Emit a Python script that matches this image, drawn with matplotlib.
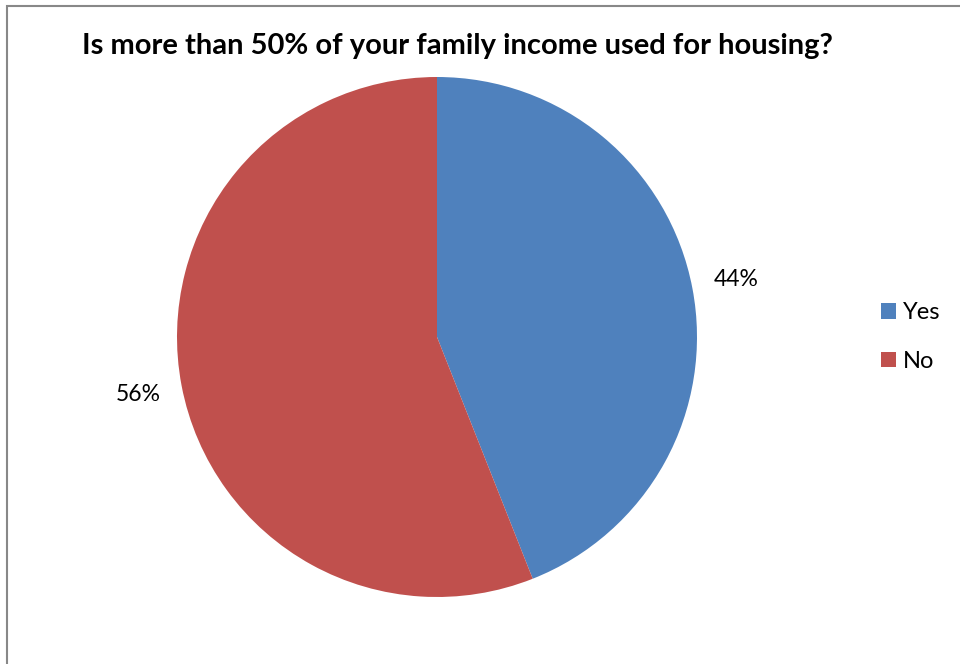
import matplotlib.pyplot as plt
from matplotlib.patches import Rectangle, Patch

# Share of respondents spending more than half of family income on housing
labels = ['Yes', 'No']
values = [44, 56]
colors = ['#4F81BD', '#C0504D']

plt.rcParams['font.family'] = ['Lato', 'DejaVu Sans']

W, H = 960, 664
fig = plt.figure(figsize=(W / 100, H / 100), dpi=100)

# chart frame (runs off the right and bottom edges)
fig.patches.append(Rectangle((7 / W, -0.1), 1.2, 1 - 6.5 / H + 0.1,
                             transform=fig.transFigure, fill=False,
                             edgecolor='#888888', linewidth=1.5))

cx, cy, r = 437, 337, 260
ax = fig.add_axes([(cx - r) / W, (H - cy - r) / H, 2 * r / W, 2 * r / H])
wedges, texts, autotexts = ax.pie(values, colors=colors, startangle=90,
                                  counterclock=False, radius=1,
                                  autopct='%d%%', pctdistance=1.17,
                                  wedgeprops=dict(linewidth=0))
for t in autotexts:
    t.set_fontsize(16.5)
ax.set_xlim(-1, 1)
ax.set_ylim(-1, 1)
ax.set_aspect('auto')
ax.axis('off')

fig.text(457 / W, 1 - 46 / H, 'Is more than 50% of your family income used for housing?',
         ha='center', va='center', fontsize=21, fontweight='bold')

handles = [Patch(facecolor=c, label=l) for c, l in zip(colors, labels)]
fig.legend(handles=handles, loc='center left', bbox_to_anchor=(881 / W, 1 - 337 / H),
           frameon=False, fontsize=17, handlelength=0.63, handleheight=0.63,
           handletextpad=0.3, labelspacing=1.17, borderpad=0, borderaxespad=0)

fig.savefig('out.png', dpi=100)
